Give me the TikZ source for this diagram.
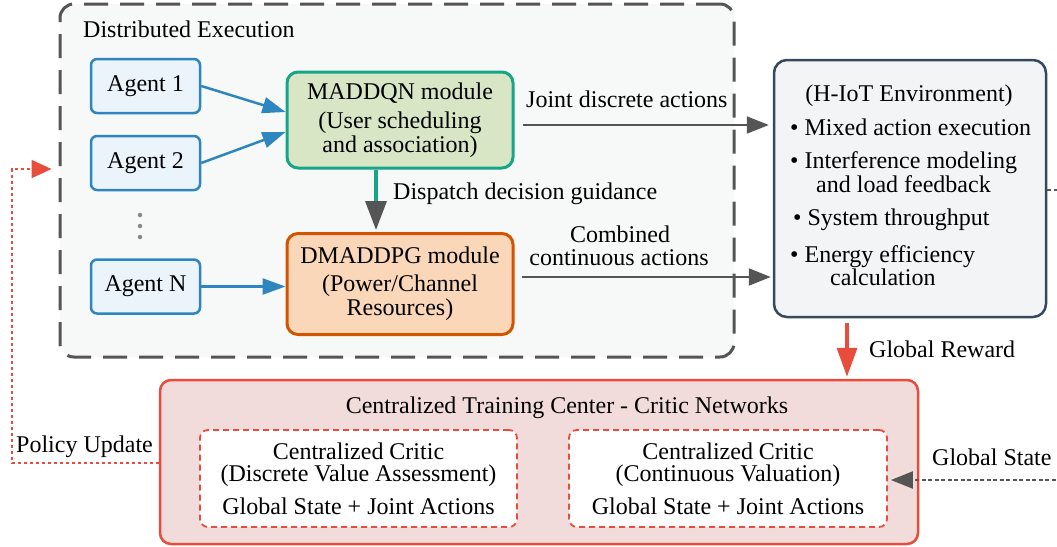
\documentclass[tikz,border=0pt]{standalone}
\usepackage{fontspec}
\setmainfont{Liberation Serif}
\usetikzlibrary{arrows.meta,calc}

\definecolor{panelfill}{HTML}{F7F8F8}
\definecolor{panelline}{HTML}{555555}
\definecolor{agentfill}{HTML}{EBF3FB}
\definecolor{agentline}{HTML}{2E86C1}
\definecolor{dqnfill}{HTML}{D8E6C6}
\definecolor{dqnline}{HTML}{17A589}
\definecolor{ddpgfill}{HTML}{FAD7B8}
\definecolor{ddpgline}{HTML}{D35400}
\definecolor{envfill}{HTML}{F3F4F6}
\definecolor{envline}{HTML}{34495E}
\definecolor{redline}{HTML}{E74C3C}
\definecolor{trainfill}{HTML}{F2DCDB}
\definecolor{flowgray}{HTML}{555555}
\definecolor{dotgray}{HTML}{888888}

\begin{document}
\begin{tikzpicture}[x=1pt,y=-1pt,
  every node/.style={font=\fontsize{24}{24}\selectfont, inner sep=0pt, text=black},
  panel/.style={draw=panelline, fill=panelfill, line width=3pt, dash pattern=on 24pt off 12pt, rounded corners=14pt},
  agentbox/.style={draw=agentline, fill=agentfill, line width=2.5pt, rounded corners=6pt,
    minimum width=109pt, minimum height=54pt},
  module/.style={line width=3pt, rounded corners=11pt, align=center},
  envbox/.style={draw=envline, fill=envfill, line width=2.5pt, rounded corners=13pt},
  trainbox/.style={draw=redline, fill=trainfill, line width=2.5pt, rounded corners=11pt},
  criticbox/.style={draw=redline, fill=white, line width=1.8pt, dash pattern=on 6pt off 4pt,
    rounded corners=8pt, align=center, font=\fontsize{24}{22}\selectfont},
  vdot/.style={circle, fill=dotgray, minimum size=4.5pt},
  blueflow/.style={draw=agentline, line width=2.5pt, -{Triangle[length=23pt,width=16pt]}},
  grayflow/.style={draw=flowgray, line width=2pt, -{Triangle[length=22pt,width=17pt]}},
  guideflow/.style={draw=dqnline, line width=3.5pt, -{Triangle[length=29pt,width=21pt,color=flowgray]}},
  rewardflow/.style={draw=redline, line width=3.5pt, -{Triangle[length=29pt,width=20pt]}},
  stateflow/.style={draw=flowgray, line width=2pt, dash pattern=on 4pt off 2.5pt,
    -{Triangle[length=22pt,width=17pt]}},
  policyflow/.style={draw=redline, line width=2pt, dash pattern=on 3pt off 3pt,
    -{Triangle[length=20pt,width=18pt]}},
]
\useasboundingbox (0,0) rectangle (1057,546);

% distributed execution panel
\node[panel, minimum width=674pt, minimum height=353pt] (dist) at (397,180.5) {};
\node[anchor=base west] (distlabel) at (83,37) {Distributed Execution};

% agents
\node[agentbox] (a1) at (145.5,86) {Agent 1};
\node[agentbox] (a2) at (145.5,163) {Agent 2};
\node[agentbox] (aN) at (145.5,286.5) {Agent N};
\node[vdot] (vd1) at (140,215) {};
\node[vdot] (vd2) at (140,226) {};
\node[vdot] (vd3) at (140,237) {};

% learning modules
\node[module, draw=dqnline, fill=dqnfill, minimum width=226pt, minimum height=96pt] (dqn) at (400,120)
  {MADDQN module\\[5pt](User scheduling\\and association)};
\node[module, draw=ddpgline, fill=ddpgfill, minimum width=226pt, minimum height=101pt] (ddpg) at (400,284)
  {DMADDPG module\\[4pt](Power/Channel\\Resources)};

% environment
\node[envbox, minimum width=272pt, minimum height=257pt] (env) at (910,188.5) {};
\node[anchor=base] (envtitle) at (909,101) {(H-IoT Environment)};
\node[anchor=base west] (envi1) at (790,135) {\textbullet\ Mixed action execution};
\node[anchor=base west] (envi2) at (790,168) {\textbullet\ Interference modeling};
\node[anchor=base west] (envi2b) at (816,192) {and load feedback};
\node[anchor=base west] (envi3) at (793,225) {\textbullet\ System throughput};
\node[anchor=base west] (envi4) at (790,262) {\textbullet\ Energy efficiency};
\node[anchor=base west] (envi4b) at (830,285) {calculation};

% centralized training
\node[trainbox, minimum width=758pt, minimum height=164pt] (train) at (539,462) {};
\node[anchor=base] (traintitle) at (567,413) {Centralized Training Center - Critic Networks};
\node[criticbox, minimum width=317pt, minimum height=97pt] (c1) at (358.5,478.5)
  {Centralized Critic\\(Discrete Value Assessment)\\[11pt]Global State + Joint Actions};
\node[criticbox, minimum width=318pt, minimum height=97pt] (c2) at (728,478.5)
  {Centralized Critic\\(Continuous Valuation)\\[11pt]Global State + Joint Actions};

% agents to modules
\draw[blueflow] (a1.east) -- ($(dqn.west)+(0,-8)$);
\draw[blueflow] (a2.east) -- ($(dqn.west)+(0,12)$);
\draw[blueflow] (aN.east) -- (aN.east -| ddpg.west);

% guidance from MADDQN to DMADDPG
\coordinate (gtop) at ($(dqn.south)+(-24,0)$);
\draw[guideflow, shorten >=2pt] (gtop) -- (gtop |- ddpg.north);
\node[anchor=base west] (guidelabel) at (393,199) {Dispatch decision guidance};

% actions to the environment
\coordinate (jd) at ($(dqn.east)+(8,5)$);
\draw[grayflow, shorten >=4pt] (jd) -- (jd -| env.west);
\node[anchor=base west] (jdlabel) at (526,107) {Joint discrete actions};
\coordinate (cc) at ($(ddpg.east)+(7,-7)$);
\draw[grayflow, shorten >=2pt] (cc) -- (cc -| env.west);
\node[anchor=base] (cclabel1) at (620,242) {Combined};
\node[anchor=base] (cclabel2) at (619,265) {continuous actions};

% reward and state to the training center
\coordinate (rw) at ($(env.south)+(-63,5)$);
\draw[rewardflow, shorten >=2pt] (rw) -- (rw |- train.north);
\node[anchor=base west] (rwlabel) at (869,357) {Global Reward};
\coordinate (envout) at (1062,190);
\draw[flowgray, line width=2pt, dash pattern=on 4pt off 2.5pt] (env.east |- envout) -- (envout);
\coordinate (gsin) at (1062,480);
\draw[stateflow, shorten >=3pt] (gsin) -- (gsin -| c2.east);
\node[anchor=base west] (gslabel) at (932,465) {Global State};

% policy update back to the agents
\coordinate (pu1) at (12,463);
\coordinate (pu2) at (12,169);
\draw[policyflow, shorten >=7pt] (train.west |- pu1) -- (pu1) -- (pu2) -- (pu2 -| dist.west);
\node[anchor=base west] (pulabel) at (16,452) {Policy Update};
\end{tikzpicture}
\end{document}
